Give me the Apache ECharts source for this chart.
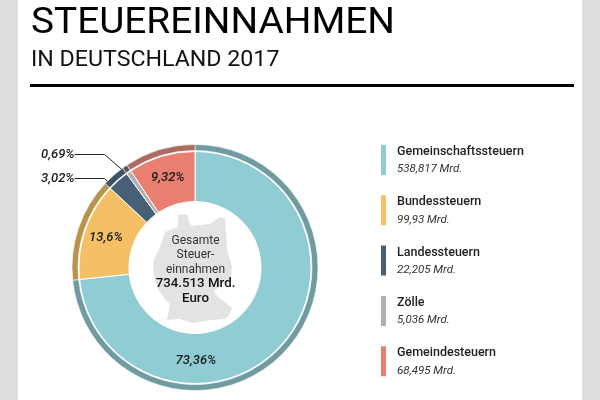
<!DOCTYPE html>
<html><head><meta charset="utf-8">
<style>html,body{margin:0;padding:0;background:#fff}#c{width:600px;height:400px}</style>
<script src="https://cdn.jsdelivr.net/npm/echarts@6/dist/echarts.min.js"></script></head>
<body><div id="c"></div>
<script>
const categories = ['Gemeinschaftssteuern','Bundessteuern','Landessteuern','Zölle','Gemeindesteuern'];
const values = [538.817, 99.93, 22.205, 5.036, 68.495];
const valueLabels = ['538,817 Mrd.','99,93 Mrd.','22,205 Mrd.','5,036 Mrd.','68,495 Mrd.'];
const percentLabels = ['73,36%','13,6%','3,02%','0,69%','9,32%'];
const fillColors = ['#90ccd4','#f5c065','#476076','#b0b0b0','#ea7e70'];
const ringColors = ['#6f9ba1','#b9924c','#3c5368','#585858','#ab6a62'];
const centerLines = ['Gesamte','Steuer-','einnahmen','734.513 Mrd.','Euro'];
const titleMain = 'STEUEREINNAHMEN';
const titleSub = 'IN DEUTSCHLAND 2017';
const germanyOutline = [[178,215],[187,214],[189,222],[192,226],[200,225],[210,224],[220,217],[225,218],[226,230],[227,250],[232,266],[231,280],[222,284],[214,291],[218,297],[232,308],[229,315],[225,319],[212,320],[192,323],[180,319],[167,320],[170,304],[164,298],[158,289],[155,280],[153,270],[154,260],[160,247],[165,232],[178,227]];

const chart = echarts.init(document.getElementById('c'), null, {renderer:'canvas'});
const center = [195, 267.5];
const placed = {
  0: {x:196, y:360.5, align:'center'},
  2: {x:41, y:178.5, align:'left', pts:[[81,177],[111,177]]},
  3: {x:41, y:154.5, align:'left', pts:[[79,153],[108,153],[125,168]]}
};
chart.setOption({
  animation:false,
  backgroundColor:'#fff',
  legend:{
    orient:'vertical', left:379, top:143, padding:0, itemWidth:7, itemHeight:32, itemGap:16.3, icon:'rect',
    selectedMode:false, data:categories,
    formatter:n=>`{a|${n}}\n{b|${valueLabels[categories.indexOf(n)]}}`,
    textStyle:{padding:[2,0,0,5],rich:{
      a:{fontFamily:'Roboto',fontSize:12.5,fontWeight:500,color:'#222',lineHeight:17,width:180},
      b:{fontFamily:'Roboto',fontSize:11.5,fontStyle:'italic',color:'#333',lineHeight:18,width:180}
    }}
  },
  graphic:[
    {type:'rect',z:-2,shape:{x:0,y:0,width:18,height:400},style:{fill:'#dddddd'}},
    {type:'rect',z:-2,shape:{x:582,y:0,width:18,height:400},style:{fill:'#dddddd'}},
    {type:'rect',z:1,shape:{x:30,y:84,width:544,height:3},style:{fill:'#000'}},
    {type:'text',x:31,y:24,z:1,scaleX:1.077,style:{text:titleMain,fontFamily:'Roboto',fontSize:36,fill:'#000',verticalAlign:'middle'}},
    {type:'text',x:31,y:60.5,z:1,scaleX:1.03,style:{text:titleSub,fontFamily:'Roboto',fontSize:22.5,fill:'#111',verticalAlign:'middle'}},
    {type:'polygon',z:5,shape:{points:germanyOutline},style:{fill:'#e3e3e3'}},
    ...centerLines.map((t,i)=>({type:'text',z:6,x:195.5,y:241+i*14.3,style:{text:t,fontFamily:'Roboto',fontSize:i>2?13.3:12,fontWeight:i>2?500:400,fill:i>2?'#111':'#333',align:'center',verticalAlign:'middle'}}))
  ],
  series:[
    {type:'pie',center,radius:[66,116],startAngle:90,clockwise:true,silent:true,
     itemStyle:{borderColor:'#fff',borderWidth:1},
     minAngle:0,avoidLabelOverlap:false,
     labelLine:{show:true,lineStyle:{color:'#222',width:1}},
     label:{position:'inside',fontFamily:'Roboto',fontSize:13,fontStyle:'italic',fontWeight:500,color:'#1a1a1a',
       formatter:p=>percentLabels[p.dataIndex]},
     labelLayout:p=>{
       const o=placed[p.dataIndex];
       return o?{x:o.x,y:o.y,align:o.align,verticalAlign:'middle',labelLinePoints:o.pts}:{};
     },
     data:categories.map((n,i)=>({name:n,value:values[i],itemStyle:{color:fillColors[i]},
        label:(placed[i]&&placed[i].pts)?{padding:[0,4,0,0]}:{},
        labelLine:{show:!!(placed[i]&&placed[i].pts)}}))
    },
    {type:'pie',center,radius:[117,123],startAngle:90,clockwise:true,silent:true,
     itemStyle:{borderColor:'#fff',borderWidth:0.6},label:{show:false},labelLine:{show:false},
     legendHoverLink:false,
     data:categories.map((n,i)=>({name:n+' ',value:values[i],itemStyle:{color:ringColors[i]}}))
    }
  ]
});
</script></body></html>
